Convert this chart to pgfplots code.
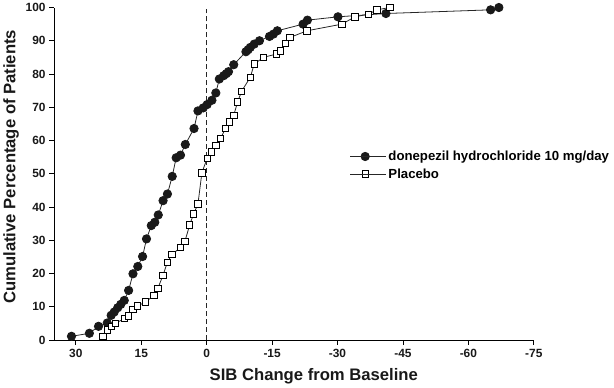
\documentclass[border=0pt]{standalone}
\usepackage{pgfplots}
\pgfplotsset{compat=1.18}
\usepackage{fontspec}
\setmainfont{Liberation Sans}
\begin{document}
\begin{tikzpicture}
\begin{axis}[
  scale only axis, width=482bp, height=334bp,
  x dir=reverse, xmin=-75, xmax=35, ymin=0, ymax=100,
  axis x line=bottom, axis y line=left,
  axis line style={-, line width=0.8pt, black},
  tick align=outside, major tick length=5bp,
  tick style={black, line width=0.8pt},
  xtick={30,15,0,-15,-30,-45,-60,-75},
  xticklabels={30,15,0,-15,-30,-45,-60,-75},
  ytick={0,10,...,100},
  /pgf/number format/assume math mode=true,
  tick label style={font=\fontsize{12}{14}\selectfont\bfseries, text=black!90},
  xticklabel style={yshift=-1bp},
  xlabel={SIB Change from Baseline},
  ylabel={Cumulative Percentage of Patients},
  label style={font=\fontsize{16.8}{19}\selectfont\bfseries, text=black!90},
  xlabel style={xshift=20bp, yshift=-4bp},
  ylabel style={xshift=7bp},
  legend style={draw=none, fill=none, at={(axis cs:-32.1,58.1)}, anchor=north west,
    font=\fontsize{13.3}{15}\selectfont\bfseries, row sep=2.5bp},
  legend cell align=left,
  legend image code/.code={\draw[mark repeat=2,mark phase=2,#1] plot coordinates {(0bp,0bp) (15bp,0bp) (30bp,0bp)}; \path (0bp,0bp) -- (36bp,0bp);},
]
\addplot[black!85, line width=0.8pt, dash pattern=on 5bp off 3bp, forget plot] coordinates {(0,0) (0,100)};
\addplot[black!85, line width=0.8pt, mark=*, mark size=4.2bp, mark options={solid, fill=black!90, draw=black!90}] coordinates {
(31.0,1.1) (26.9,2.0) (24.8,4.1) (22.8,5.1) (21.9,7.4) (21.2,8.4) (20.4,9.7) (19.7,10.7)
(18.9,11.9) (17.9,14.9) (16.9,19.9) (15.8,22.1) (14.7,25.1) (13.8,30.4) (12.7,34.4)
(11.9,35.4) (11.1,37.6) (10.0,41.9) (9.0,43.9) (7.9,49.2) (7.0,54.8) (6.0,55.6)
(4.9,58.8) (2.9,63.6) (2.0,68.9) (0.8,69.8) (-0.1,70.8) (-1.2,72.1) (-2.1,74.3)
(-2.9,78.5) (-3.9,79.5) (-4.5,80.1) (-5.0,80.7) (-6.2,82.8) (-9.0,86.7) (-9.5,87.3)
(-10.0,88.0) (-10.9,89.0) (-12.1,90.0) (-14.4,91.3) (-15.3,92.0) (-16.2,93.0)
(-22.1,95.0) (-23.1,96.2) (-30.1,97.2) (-41.1,98.2) (-65.1,99.3) (-67.0,100)
};
\addlegendentry{donepezil hydrochloride 10 mg/day}
\addplot[black!85, line width=0.8pt, mark=square*, mark size=3.2bp, mark options={solid, fill=white, draw=black, line width=0.8pt}] coordinates {
(23.8,1.1) (22.8,3.0) (21.9,4.0) (21.0,5.0) (18.9,6.4) (17.9,7.2) (16.9,9.2) (15.9,10.2)
(14.0,11.4) (12.1,13.4) (11.2,15.5) (10.0,19.5) (9.0,23.4) (8.0,25.7) (6.0,27.8)
(5.0,29.6) (3.9,34.6) (3.0,37.9) (2.0,40.9) (1.1,50.3) (-0.1,54.6) (-1.1,56.6)
(-2.1,58.6) (-3.2,60.6) (-4.3,63.6) (-5.2,65.6) (-6.2,67.6) (-7.1,71.6) (-8.0,74.8)
(-10.0,79.0) (-10.9,83.0) (-13.0,85.0) (-16.0,86.0) (-16.9,87.0) (-18.1,89.2)
(-19.1,91.0) (-23.0,93.0) (-31.0,95.0) (-34.0,97.2) (-37.1,98.0) (-39.0,99.3) (-42.0,100)
};
\addlegendentry{Placebo}
\end{axis}
\end{tikzpicture}
\end{document}
